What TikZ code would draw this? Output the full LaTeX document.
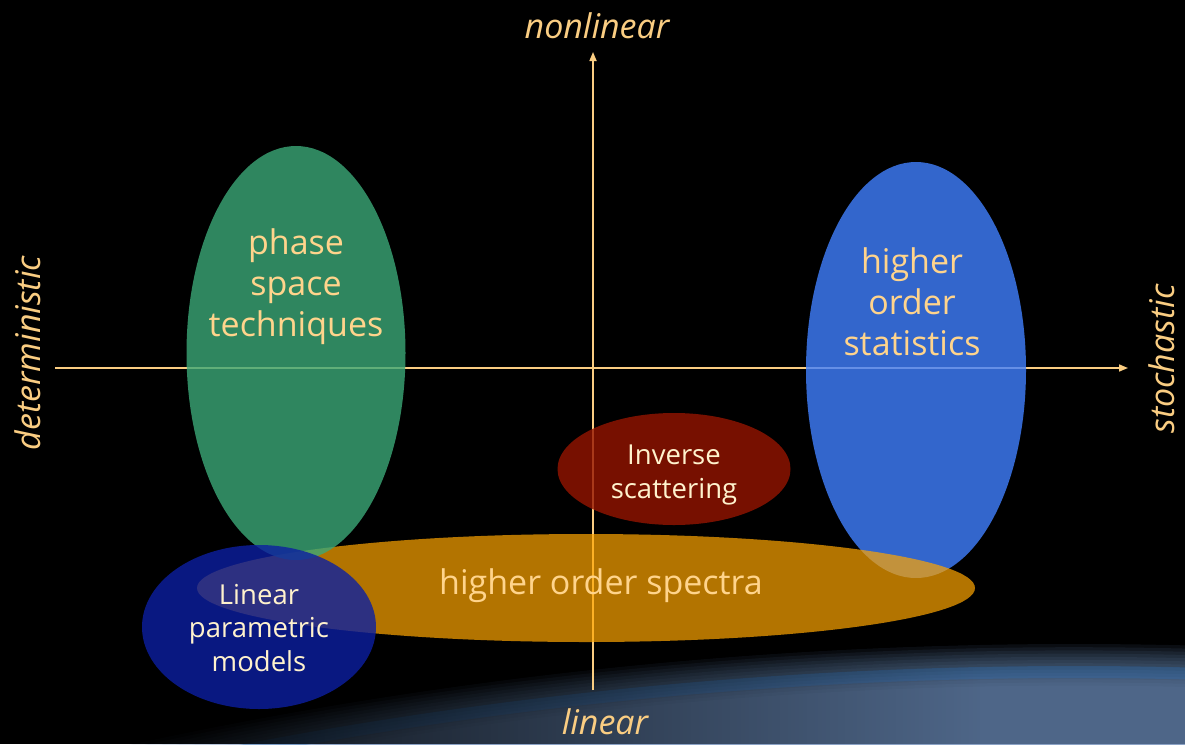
\documentclass[tikz,border=0pt]{standalone}
\usepackage{fontspec}
\setmainfont{Open Sans}
\usetikzlibrary{shapes.geometric,arrows.meta,fadings}

\definecolor{axiscol}{RGB}{250,205,130}
\definecolor{labelcol}{RGB}{255,212,140}
\definecolor{creamcol}{RGB}{255,242,205}
\definecolor{greenblob}{RGB}{59,168,119}
\definecolor{blueblob}{RGB}{64,128,255}
\definecolor{orangeblob}{RGB}{255,166,0}
\definecolor{navyblob}{RGB}{12,31,162}
\definecolor{redblob}{RGB}{149,21,0}
\definecolor{earthcol}{RGB}{105,135,180}
\definecolor{horizoncol}{RGB}{40,110,185}

\tikzfading[name=fadetoright, left color=transparent!0, right color=transparent!100]

\tikzset{
  axis/.style={draw=axiscol, line width=1.6pt, -{Triangle[length=9pt,width=7pt]}},
  blob/.style={ellipse, inner sep=0pt, outer sep=0pt, draw=none, fill opacity=0.8},
  lbl/.style={text=labelcol, align=center, inner sep=0pt, font=\fontsize{34}{41}\selectfont},
  smalllbl/.style={text=creamcol, align=center, inner sep=0pt, font=\fontsize{27.5}{33.5}\selectfont},
  axislbl/.style={text=axiscol, inner sep=0pt, text height=25pt, text depth=1pt,
                  font=\itshape\fontsize{34}{40}\selectfont}
}

\begin{document}
\begin{tikzpicture}[x=1pt,y=-1pt]
\useasboundingbox (0,0) rectangle (1185,744);
\fill[black] (0,0) rectangle (1185,744);

% earth horizon glow along the bottom edge
\begin{scope}
  \clip (0,0) rectangle (1185,744);
  \foreach \k in {0,...,13}
    \fill[earthcol, fill opacity=0.1] (1074,5074) circle[radius=4430-3.2*\k];
  \draw[horizoncol, line width=12pt, draw opacity=0.3] (1074,5074) circle[radius=4402];
  \fill[black, path fading=fadetoright] (0,590) rectangle (980,744);
\end{scope}

% axes
\coordinate (xl) at (55,368);
\coordinate (xr) at (1128,368);
\coordinate (yb) at (593,690);
\coordinate (yt) at (593,52);
\draw[axis] (xl) -- (xr);
\draw[axis] (yb) -- (yt);

% axis labels
\node[axislbl] (nonlin) at (597,26) {nonlinear};
\node[axislbl] (lin) at (605,722) {linear};
\node[axislbl, rotate=90] (det) at (28,353) {deterministic};
\node[axislbl, rotate=90] (stoch) at (1162,359) {stochastic};

% method regions
\node[blob, fill=blueblob, minimum width=220, minimum height=416] (hos) at (916,370) {};
\node[blob, fill=orangeblob, fill opacity=0.7, minimum width=778, minimum height=108] (hosp) at (586,588) {};
\node[blob, fill=greenblob, minimum width=219, minimum height=414] (pst) at (296,353) {};
\node[blob, fill=navyblob, minimum width=234, minimum height=164] (lpm) at (259,627) {};
\node[blob, fill=redblob, minimum width=233, minimum height=112] (invs) at (674,469) {};

% region texts
\node[lbl] (tpst) at (296,287) {phase\\space\\techniques};
\node[lbl] (thos) at (912,302) {higher\\order\\statistics};
\node[lbl] (thosp) at (601,586) {higher order spectra};
\node[smalllbl] (tlpm) at (259,628) {Linear\\parametric\\models};
\node[smalllbl] (tinvs) at (674,475) {Inverse\\scattering};
\end{tikzpicture}
\end{document}
